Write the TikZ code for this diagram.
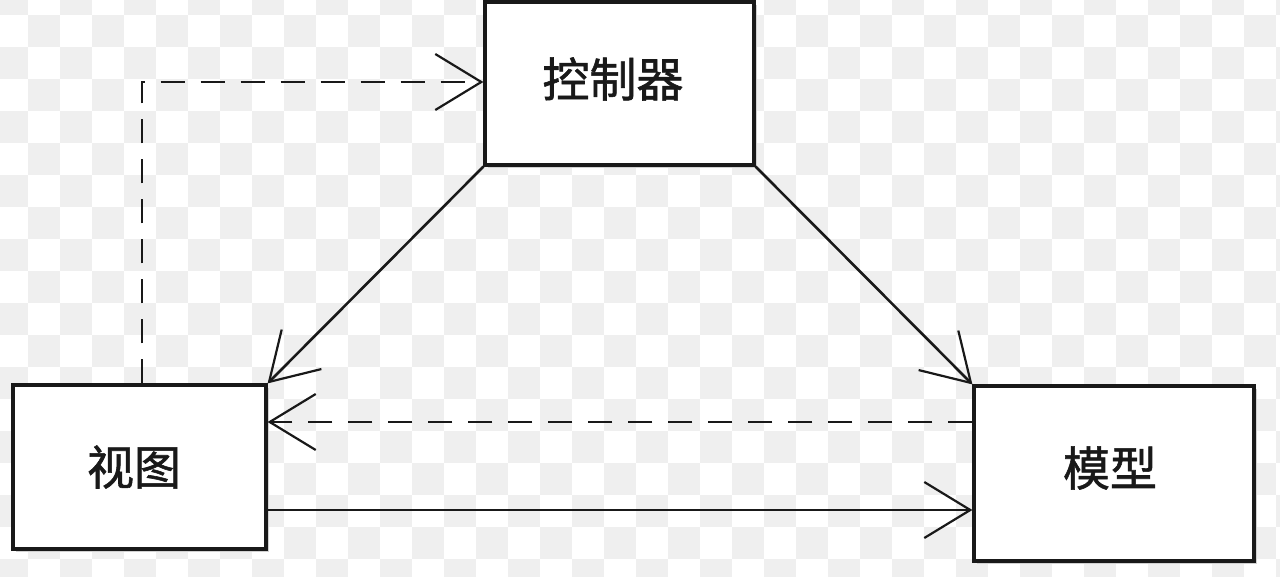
\documentclass[tikz,border=0pt]{standalone}
\usepackage{fontspec}
\newfontfamily\cjk[RawFeature={embolden=1.2}]{Noto Sans CJK SC}
\usetikzlibrary{arrows.meta,shadows}
\definecolor{checker}{RGB}{239,239,239}
\definecolor{ink}{RGB}{25,25,25}
\tikzset{
  box/.style={draw=ink, line width=3.2pt, fill=white, inner sep=0pt,
    general shadow={fill=black!18, shadow xshift=2.5pt, shadow yshift=-2.5pt}},
  lbl/.style={inner sep=0pt, text=ink, font=\cjk\fontsize{47}{47}\selectfont},
  conn/.style={draw=ink, line width=2.6pt,
    -{Straight Barb[length=46pt,width=56pt,line width=2.2pt]}},
  dashconn/.style={conn, dash pattern=on 24pt off 16pt}
}
\begin{document}
\begin{tikzpicture}[x=1pt,y=-1pt]
\useasboundingbox (0,0) rectangle (1280,576);
\fill[white] (0,0) rectangle (1280,576);
\begin{scope}
\clip (0,0) rectangle (1280,576);
\foreach \i in {-1,...,39}{
  \foreach \j in {-1,...,17}{
    \pgfmathtruncatemacro\ckpar{mod(\i+\j+100,2)}
    \ifnum\ckpar=0
      \fill[checker] ({28+32*\i},{15+32*\j}) rectangle ++(32,32);
    \fi
  }
}
\end{scope}

\node[box, minimum width=269pt, minimum height=163pt] (ctrl) at (619.5,83.5) {};
\node[box, minimum width=253pt, minimum height=164pt] (view) at (139.5,467) {};
\node[box, minimum width=280pt, minimum height=175pt] (model) at (1114,473.5) {};
\node[lbl] (ctrltxt) at (613,79) {控制器};
\node[lbl] (viewtxt) at (134,467) {视图};
\node[lbl] (modeltxt) at (1110,468) {模型};

\draw[dashconn] ([xshift=2.5pt]view.north) |- ([yshift=1.5pt]ctrl.west);
\draw[conn] (ctrl.south west) -- (view.north east);
\draw[conn] (ctrl.south east) -- (model.north west);
\draw[dashconn] ([yshift=51.5pt]model.west) -- ([yshift=51.5pt]model.west -| view.east);
\draw[conn] ([yshift=-43pt]view.east) -- ([yshift=-43pt]view.east -| model.west);
\end{tikzpicture}
\end{document}
